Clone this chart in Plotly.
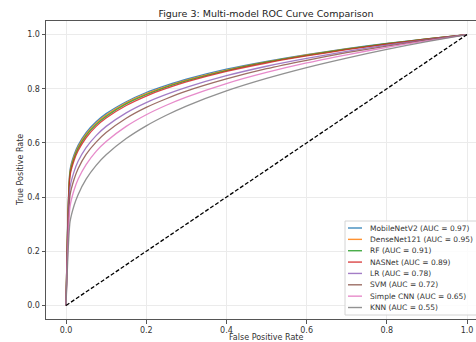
import plotly.graph_objects as go

fpr = [0, 0.01, 0.02, 0.03, 0.05, 0.075, 0.1, 0.15, 0.2, 0.25, 0.3, 0.4, 0.5, 0.6, 0.7, 0.8, 0.9, 1.0]

models = ["MobileNetV2", "DenseNet121", "RF", "NASNet", "LR", "SVM", "Simple CNN", "KNN"]
auc_labels = ["0.97", "0.95", "0.91", "0.89", "0.78", "0.72", "0.65", "0.55"]
colors = ["#1f77b4", "#ff7f0e", "#2ca02c", "#d62728", "#9467bd", "#8c564b", "#e377c2", "#7f7f7f"]

tpr_mobilenet = [0, 0.501, 0.556, 0.591, 0.638, 0.678, 0.708, 0.752, 0.786, 0.812, 0.835, 0.872, 0.901, 0.926, 0.948, 0.967, 0.984, 1.0]
tpr_densenet = [0, 0.494, 0.550, 0.585, 0.632, 0.673, 0.703, 0.748, 0.782, 0.809, 0.832, 0.869, 0.899, 0.925, 0.947, 0.966, 0.984, 1.0]
tpr_rf = [0, 0.488, 0.543, 0.579, 0.627, 0.668, 0.698, 0.744, 0.778, 0.806, 0.829, 0.867, 0.898, 0.923, 0.946, 0.966, 0.984, 1.0]
tpr_nasnet = [0, 0.479, 0.535, 0.571, 0.619, 0.661, 0.692, 0.738, 0.773, 0.801, 0.825, 0.864, 0.895, 0.921, 0.944, 0.965, 0.983, 1.0]
tpr_lr = [0, 0.437, 0.494, 0.532, 0.583, 0.627, 0.661, 0.711, 0.749, 0.779, 0.805, 0.848, 0.883, 0.912, 0.938, 0.961, 0.981, 1.0]
tpr_svm = [0, 0.407, 0.466, 0.505, 0.558, 0.603, 0.638, 0.691, 0.731, 0.763, 0.791, 0.836, 0.874, 0.905, 0.933, 0.957, 0.980, 1.0]
tpr_cnn = [0, 0.366, 0.426, 0.466, 0.520, 0.569, 0.605, 0.661, 0.704, 0.739, 0.769, 0.819, 0.860, 0.895, 0.925, 0.953, 0.977, 1.0]
tpr_knn = [0, 0.309, 0.369, 0.409, 0.466, 0.517, 0.556, 0.616, 0.663, 0.702, 0.736, 0.792, 0.838, 0.878, 0.913, 0.945, 0.974, 1.0]

tpr_all = [tpr_mobilenet, tpr_densenet, tpr_rf, tpr_nasnet, tpr_lr, tpr_svm, tpr_cnn, tpr_knn]

chance_x = [0, 1]
chance_y = [0, 1]

tick_vals = [0.0, 0.2, 0.4, 0.6, 0.8, 1.0]
tick_text = ["0.0", "0.2", "0.4", "0.6", "0.8", "1.0"]

font = "DejaVu Sans, Liberation Sans, sans-serif"
W, H = 476, 342
L, R, T, B = 46, 0, 21, 23
PW, PH = W - L - R, H - T - B


def px_x(p):
    return (p - L) / PW


def px_y(p):
    return (H - B - p) / PH


fig = go.Figure()
for name, auc, col, tpr in zip(models, auc_labels, colors, tpr_all):
    fig.add_trace(go.Scatter(
        x=fpr, y=tpr, mode="lines", name=f"{name} (AUC = {auc})",
        line=dict(color=col, width=1.3, shape="spline", smoothing=0.6), opacity=0.85,
        showlegend=False,
    ))
fig.add_trace(go.Scatter(
    x=chance_x, y=chance_y, mode="lines", showlegend=False,
    line=dict(color="black", width=1.3, dash="4px,2px"),
))

# legend drawn in paper coordinates (matplotlib-style compact legend)
shapes = [dict(type="rect", xref="paper", yref="paper",
               x0=px_x(345), x1=px_x(482), y0=px_y(315), y1=px_y(221),
               fillcolor="rgba(255,255,255,0.85)", line=dict(color="#d4d4d4", width=1), layer="above")]
annotations = []
row0, step = 228.0, 11.36
for i, (name, auc, col) in enumerate(zip(models, auc_labels, colors)):
    yy = px_y(row0 + i * step)
    shapes.append(dict(type="line", xref="paper", yref="paper", x0=px_x(348), x1=px_x(362),
                       y0=yy, y1=yy, line=dict(color=col, width=1.4), opacity=0.85, layer="above"))
    annotations.append(dict(xref="paper", yref="paper", x=px_x(368), y=yy, xanchor="left", yanchor="middle",
                            text=f"{name} (AUC = {auc})", showarrow=False,
                            font=dict(size=7.5, color="#333333", family=font)))

# axis titles placed like matplotlib's
annotations.append(dict(xref="paper", yref="paper", x=px_x(266), y=px_y(337), xanchor="center", yanchor="middle",
                        text="False Positive Rate", showarrow=False, font=dict(size=8, color="#333333", family=font)))
annotations.append(dict(xref="paper", yref="paper", x=px_x(20), y=px_y(170), xanchor="center", yanchor="middle",
                        text="True Positive Rate", showarrow=False, textangle=-90,
                        font=dict(size=8, color="#333333", family=font)))

fig.update_layout(
    width=W, height=H,
    margin=dict(l=L, r=R, t=T, b=B, autoexpand=False),
    paper_bgcolor="white", plot_bgcolor="white",
    font=dict(family=font, size=8, color="#333333"),
    title=dict(text="Figure 3: Multi-model ROC Curve Comparison", x=(266 / W), xanchor="center",
               y=1 - 14 / H, yanchor="middle", yref="container", font=dict(size=9.5, color="#222222")),
    xaxis=dict(range=[-0.05, (W - 66) / 401], tickvals=tick_vals, ticktext=tick_text,
               showgrid=True, gridcolor="#ebebeb", gridwidth=1, zeroline=False, automargin=False,
               showline=True, linecolor="#555555", linewidth=1, mirror=True,
               ticks="outside", ticklen=3.5, tickcolor="#555555"),
    yaxis=dict(range=[-0.05, 1.05], tickvals=tick_vals, ticktext=tick_text,
               showgrid=True, gridcolor="#ebebeb", gridwidth=1, zeroline=False, automargin=False,
               showline=True, linecolor="#555555", linewidth=1, mirror=False,
               ticks="outside", ticklen=3.5, tickcolor="#555555"),
    shapes=shapes,
    annotations=annotations,
    showlegend=False,
)

fig.write_html("out.html", config={"displayModeBar": False},
               post_script="document.body.style.margin='0';document.body.style.overflow='hidden';")
